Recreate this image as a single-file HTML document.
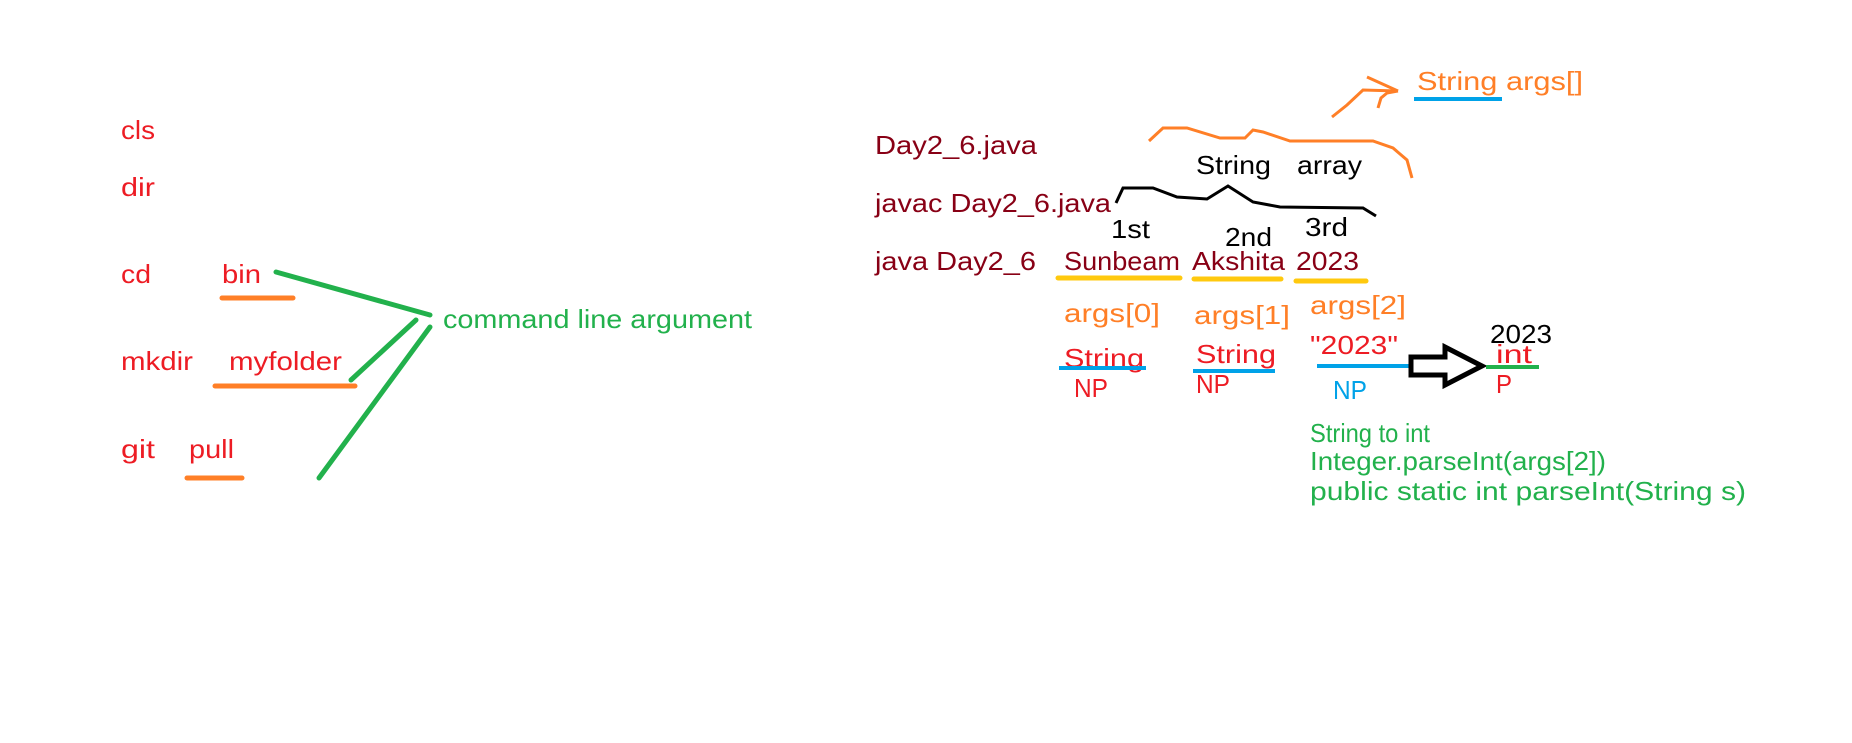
<!DOCTYPE html>
<html><head><meta charset="utf-8"><style>
html,body{margin:0;padding:0;background:#fff;}
svg{display:block;}
text{font-family:"Liberation Sans",sans-serif;font-size:26px;}
.r{fill:#ed1c24}.m{fill:#880015}.o{fill:#ff7f27}.g{fill:#22b14c}.k{fill:#000}.b{fill:#00a2e8}
</style></head><body>
<svg width="1852" height="743" viewBox="0 0 1852 743" xmlns="http://www.w3.org/2000/svg">
<rect width="1852" height="743" fill="#fff"/>
<text class="r" x="121" y="139" textLength="34" lengthAdjust="spacingAndGlyphs">cls</text>
<text class="r" x="121" y="196" textLength="34" lengthAdjust="spacingAndGlyphs">dir</text>
<text class="r" x="121" y="283" textLength="30" lengthAdjust="spacingAndGlyphs">cd</text>
<text class="r" x="222" y="283" textLength="39" lengthAdjust="spacingAndGlyphs">bin</text>
<text class="r" x="121" y="370" textLength="72" lengthAdjust="spacingAndGlyphs">mkdir</text>
<text class="r" x="229" y="370" textLength="113" lengthAdjust="spacingAndGlyphs">myfolder</text>
<text class="r" x="121" y="458" textLength="34" lengthAdjust="spacingAndGlyphs">git</text>
<text class="r" x="189" y="458" textLength="45" lengthAdjust="spacingAndGlyphs">pull</text>
<g stroke="#ff7f27" stroke-width="5" stroke-linecap="round">
<line x1="222" y1="298" x2="293" y2="298"/>
<line x1="215" y1="386" x2="355" y2="386"/>
<line x1="187" y1="478" x2="242" y2="478"/>
</g>
<g stroke="#22b14c" stroke-width="5" stroke-linecap="round">
<line x1="276" y1="272" x2="430" y2="315"/>
<line x1="351" y1="380" x2="416" y2="320"/>
<line x1="319" y1="478" x2="430" y2="327"/>
</g>
<text class="g" x="443" y="328" textLength="309" lengthAdjust="spacingAndGlyphs">command line argument</text>
<text class="m" x="875" y="154" textLength="162" lengthAdjust="spacingAndGlyphs">Day2_6.java</text>
<text class="m" x="875" y="212" textLength="236" lengthAdjust="spacingAndGlyphs">javac Day2_6.java</text>
<text class="m" x="875" y="270" textLength="161" lengthAdjust="spacingAndGlyphs">java Day2_6</text>
<text class="m" x="1064" y="270" textLength="116" lengthAdjust="spacingAndGlyphs">Sunbeam</text>
<text class="m" x="1192" y="270" textLength="93" lengthAdjust="spacingAndGlyphs">Akshita</text>
<text class="m" x="1296" y="270" textLength="63" lengthAdjust="spacingAndGlyphs">2023</text>
<text class="k" x="1111" y="238" textLength="39" lengthAdjust="spacingAndGlyphs">1st</text>
<text class="k" x="1225" y="246" textLength="47" lengthAdjust="spacingAndGlyphs">2nd</text>
<text class="k" x="1305" y="236" textLength="43" lengthAdjust="spacingAndGlyphs">3rd</text>
<text class="k" x="1196" y="174" textLength="75" lengthAdjust="spacingAndGlyphs">String</text>
<text class="k" x="1297" y="174" textLength="65" lengthAdjust="spacingAndGlyphs">array</text>
<g stroke="#ffc90e" stroke-width="5" stroke-linecap="round">
<line x1="1058" y1="278" x2="1180" y2="278"/>
<line x1="1194" y1="279" x2="1281" y2="279"/>
<line x1="1296" y1="281" x2="1366" y2="281"/>
</g>
<text class="o" x="1064" y="322" textLength="96" lengthAdjust="spacingAndGlyphs">args[0]</text>
<text class="o" x="1194" y="324" textLength="96" lengthAdjust="spacingAndGlyphs">args[1]</text>
<text class="o" x="1310" y="314" textLength="96" lengthAdjust="spacingAndGlyphs">args[2]</text>
<text class="r" x="1064" y="367" textLength="80" lengthAdjust="spacingAndGlyphs">String</text>
<text class="r" x="1196" y="363" textLength="80" lengthAdjust="spacingAndGlyphs">String</text>
<text class="r" x="1310" y="354" textLength="88" lengthAdjust="spacingAndGlyphs">"2023"</text>
<text class="r" x="1074" y="397" textLength="34" lengthAdjust="spacingAndGlyphs">NP</text>
<text class="r" x="1196" y="393" textLength="34" lengthAdjust="spacingAndGlyphs">NP</text>
<text class="b" x="1333" y="399" textLength="34" lengthAdjust="spacingAndGlyphs">NP</text>
<g stroke="#00a2e8" stroke-width="4">
<line x1="1059" y1="368" x2="1146" y2="368"/>
<line x1="1193" y1="371" x2="1275" y2="371"/>
<line x1="1317" y1="366" x2="1411" y2="366"/>
<line x1="1414" y1="99" x2="1502" y2="99"/>
</g>
<polygon points="1411,357 1445,357 1445,347 1482,366 1445,385 1445,375 1411,375" fill="#fff" stroke="#000" stroke-width="5" stroke-linejoin="miter"/>
<line x1="1486" y1="367" x2="1539" y2="367" stroke="#22b14c" stroke-width="4"/>
<text class="k" x="1490" y="343" textLength="62" lengthAdjust="spacingAndGlyphs">2023</text>
<text class="r" x="1496" y="363" textLength="36" lengthAdjust="spacingAndGlyphs">int</text>
<text class="r" x="1496" y="393" textLength="16" lengthAdjust="spacingAndGlyphs">P</text>
<text class="g" x="1310" y="442" textLength="120" lengthAdjust="spacingAndGlyphs">String to int</text>
<text class="g" x="1310" y="470" textLength="296" lengthAdjust="spacingAndGlyphs">Integer.parseInt(args[2])</text>
<text class="g" x="1310" y="500" textLength="436" lengthAdjust="spacingAndGlyphs">public static int parseInt(String s)</text>
<text class="o" x="1417" y="90" textLength="166" lengthAdjust="spacingAndGlyphs">String args[]</text>
<polyline fill="none" stroke="#ff7f27" stroke-width="3" points="1149,141 1163,128 1187,128 1220,138 1245,138 1253,130 1263,132 1290,141 1373,141 1393,148 1407,160 1412,178"/>
<polyline fill="none" stroke="#000" stroke-width="3" points="1116,203 1123,188 1153,188 1177,197 1207,199 1228,186 1253,202 1280,207 1363,208 1376,216"/>
<polyline fill="none" stroke="#ff7f27" stroke-width="3" points="1332,117 1347,105 1363,90 1398,91"/>
<polyline fill="none" stroke="#ff7f27" stroke-width="3" points="1367,77 1398,91"/>
<polyline fill="none" stroke="#ff7f27" stroke-width="3" points="1378,108 1381,98 1387,93 1398,91"/>
</svg>
</body></html>
